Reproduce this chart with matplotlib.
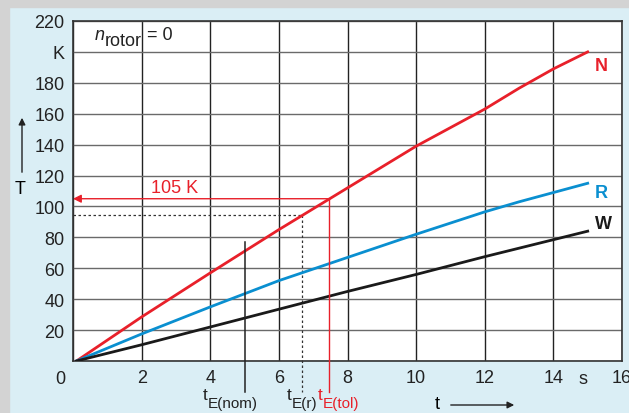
import matplotlib
matplotlib.use("Agg")
import matplotlib.pyplot as plt
from matplotlib.patches import Rectangle, FancyArrowPatch
from matplotlib.transforms import offset_copy

plt.rcParams['font.family'] = ['Liberation Sans', 'DejaVu Sans']

# curves (time in s, temperature rise in K)
t_vals = [0.1, 2, 4, 6, 8, 10, 12, 13, 14, 15]
T_N = [0, 28.5, 57, 85, 112, 139, 163, 176.5, 189, 200]
T_R = [0, 17.5, 35, 52, 67, 82, 96.5, 103, 109, 115]
T_W = [0, 10.5, 22, 33.5, 45, 56, 67.5, 73, 78.5, 84]

x_ticks = [0, 2, 4, 6, 8, 10, 12, 14, 16]
x_labels = ['', '2', '4', '6', '8', '10', '12', '14', '16']
y_ticks = [0, 20, 40, 60, 80, 100, 120, 140, 160, 180, 200, 220]
y_labels = ['', '20', '40', '60', '80', '100', '120', '140', '160', '180', 'K', '220']

t_nom = 5.0
t_r, T_r = 6.68, 94.5
t_tol, T_tol = 7.45, 105

red = '#e8202a'
blue = '#0a8fd0'
dark = '#222222'
bg = '#daeef5'
fs = 13

fig = plt.figure(figsize=(6.29, 4.14), dpi=100, facecolor=bg)
fig.patches.append(Rectangle((0, 0), 9 / 629, 1, transform=fig.transFigure,
                             color='#d3d3d3', zorder=0))
fig.patches.append(Rectangle((0, 1 - 8 / 414), 1, 8 / 414, transform=fig.transFigure,
                             color='#d3d3d3', zorder=0))

ax = fig.add_axes([73 / 629, 1 - 362 / 414, 549 / 629, 340 / 414])
ax.set_facecolor('white')
ax.set_xlim(0, 16)
ax.set_ylim(0, 220)
ax.set_xticks(x_ticks, x_labels)
ax.set_yticks(y_ticks, y_labels)
ax.tick_params(length=0, labelsize=fs, pad=6, colors=dark)
ax.grid(axis='x', color=dark, lw=1)
ax.grid(axis='y', color='#6a6a6a', lw=1)
for s in ax.spines.values():
    s.set_color('#333333')
    s.set_linewidth(1.2)

ax.plot(t_vals, T_N, color=red, lw=2, zorder=5)
ax.plot(t_vals, T_R, color=blue, lw=2, zorder=5)
ax.plot(t_vals, T_W, color='#1a1a1a', lw=2, zorder=5)

ax.text(15.22, 191, 'N', color=red, fontsize=fs, fontweight='bold', va='center')
ax.text(15.22, 109, 'R', color=blue, fontsize=fs, fontweight='bold', va='center')
ax.text(15.22, 89, 'W', color='#1a1a1a', fontsize=fs, fontweight='bold', va='center')

renderer = fig.canvas.get_renderer()


def sub_label(x, y, base, sub, tail='', color=dark, size=fs, sub_size=11, drop=9,
              style='normal'):
    # base text, then a subscript and an optional tail written right after it
    t1 = ax.text(x, y, base, fontsize=size, color=color, style=style, va='baseline',
                 clip_on=False)
    w = t1.get_window_extent(renderer).width
    t2 = ax.text(x, y, sub, fontsize=sub_size, color=color, va='baseline', clip_on=False,
                 transform=offset_copy(ax.transData, fig=fig, x=w, y=-drop, units='dots'))
    w += t2.get_window_extent(renderer).width
    if tail:
        ax.text(x, y, tail, fontsize=size, color=color, va='baseline', clip_on=False,
                transform=offset_copy(ax.transData, fig=fig, x=w, y=0, units='dots'))


sub_label(0.64, 208.4, 'n', 'rotor', ' = 0', sub_size=13, drop=6, style='italic')

# 105 K marker
ax.annotate('', xy=(0, T_tol), xytext=(t_tol, T_tol),
            arrowprops=dict(arrowstyle='-|>', color=red, lw=1, mutation_scale=12,
                            shrinkA=0, shrinkB=0), zorder=6)
ax.text(2.97, 112.5, '105 K', color=red, fontsize=fs, ha='center', va='center')
ax.plot([t_tol, t_tol], [T_tol, -20], color=red, lw=1, clip_on=False, zorder=6)

ax.plot([0, t_r], [T_r, T_r], color='#333333', lw=0.9, ls=(0, (2, 2)), zorder=4)
ax.plot([t_r, t_r], [T_r, -20], color='#333333', lw=0.9, ls=(0, (2, 2)),
        clip_on=False, zorder=4)
ax.plot([t_nom, t_nom], [77, -20], color=dark, lw=1.1, clip_on=False, zorder=6)

sub_label(3.79, -24.6, 't', 'E(nom)', size=12.5, sub_size=11, drop=8)
sub_label(6.24, -24.6, 't', 'E(r)', size=12.5, sub_size=11, drop=8)
sub_label(7.14, -24.6, 't', 'E(tol)', color=red, size=12.5, sub_size=11, drop=8)

ax.text(-0.38, -11.6, '0', fontsize=fs, ha='center', va='center', color=dark)
ax.text(14.87, -11.6, 's', fontsize=fs, ha='center', va='center', color=dark)

# axis names with arrows
fig.text(20 / 629, 1 - 190 / 414, 'T', fontsize=fs, ha='center', va='center')
fig.patches.append(FancyArrowPatch((22 / 629, 1 - 176 / 414), (22 / 629, 1 - 116 / 414),
                                   transform=fig.transFigure, arrowstyle='-|>',
                                   mutation_scale=10, color=dark, lw=1))
fig.text(437 / 629, 1 - 405 / 414, 't', fontsize=fs, ha='center', va='center')
fig.patches.append(FancyArrowPatch((448 / 629, 1 - 406 / 414), (517 / 629, 1 - 406 / 414),
                                   transform=fig.transFigure, arrowstyle='-|>',
                                   mutation_scale=10, color=dark, lw=1))

fig.savefig('out.png', dpi=100, facecolor=bg)
